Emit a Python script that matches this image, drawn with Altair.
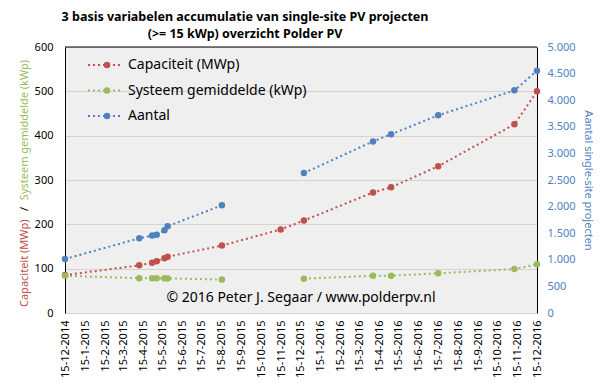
import altair as alt
import pandas as pd

# ---------------- data ----------------
dates = ["2014-12-15", "2015-04-09", "2015-04-29", "2015-05-06", "2015-05-18",
         "2015-05-23", "2015-08-15", "2015-11-14", "2015-12-20", "2016-04-05",
         "2016-05-03", "2016-07-15", "2016-11-10", "2016-12-15"]
capaciteit = [85.5, 107.5, 113.5, 116.5, 123.5, 127, 152, 188.5, 208.5, 272,
              283.5, 331, 425.5, 500]
gemiddelde = [84, 78.5, 78.5, 78.5, 78.5, 78, 75.5, None, 77.5, 84, 84, 89.5, 99, 110]
aantal = [1015, 1405, 1455, 1470, 1555, 1630, 2025, None, 2630, 3225, 3360, 3715,
          4185, 4555]

series_names = ["Capaciteit (MWp)", "Systeem gemiddelde (kWp)", "Aantal"]
series_colors = ["#C0504D", "#9BBB59", "#4F81BD"]

tick_dates = ["2014-12-15", "2015-01-15", "2015-02-15", "2015-03-15", "2015-04-15",
              "2015-05-15", "2015-06-15", "2015-07-15", "2015-08-15", "2015-09-15",
              "2015-10-15", "2015-11-15", "2015-12-15", "2016-01-15", "2016-02-15",
              "2016-03-15", "2016-04-15", "2016-05-15", "2016-06-15", "2016-07-15",
              "2016-08-15", "2016-09-15", "2016-10-15", "2016-11-15", "2016-12-15"]
left_ticks = [0, 100, 200, 300, 400, 500, 600]
right_ticks = [0, 500, 1000, 1500, 2000, 2500, 3000, 3500, 4000, 4500, 5000]

title_lines = ["3 basis variabelen accumulatie van single-site PV projecten",
               "(>= 15 kWp) overzicht Polder PV"]
copyright_text = "\u00a9 2016 Peter J. Segaar / www.polderpv.nl"
right_title = "Aantal single-site projecten"

# ---------------- build long tables ----------------
def long_rows(name, values):
    rows, seg = [], 0
    for d, v in zip(dates, values):
        if v is None:
            seg += 1
            continue
        rows.append({"datum": d, "waarde": v, "reeks": name, "seg": f"{name}-{seg}"})
    return rows

df_left = pd.DataFrame(long_rows(series_names[0], capaciteit) + long_rows(series_names[1], gemiddelde))
df_right = pd.DataFrame(long_rows(series_names[2], aantal))
df_legend = pd.DataFrame({"reeks": series_names, "idx": list(range(len(series_names)))})
dummy = pd.DataFrame({"a": [0]})

def ms(s):
    return int(pd.Timestamp(s, tz="UTC").value // 10**6)

FONT = "Noto Sans"
W, H = 472, 266

xscale = alt.Scale(type="utc", domain=[ms(tick_dates[0]), ms(tick_dates[-1])])
xaxis = alt.Axis(title=None, values=[ms(t) for t in tick_dates],
                 labelExpr="utcFormat(datum.value, '%-d-%-m-%Y')",
                 labelAngle=270, labelFont=FONT, labelFontSize=11, labelColor="black",
                 labelOverlap=False, labelFlush=False, labelPadding=7,
                 ticks=False, grid=False, domainColor="#D9D0D0", domainWidth=1)
color = alt.Color("reeks:N", scale=alt.Scale(domain=series_names, range=series_colors), legend=None)

left_axis = alt.Axis(title=None, values=left_ticks, orient="left", grid=True,
                     gridColor="#D9D0D0", domainColor="black", ticks=False,
                     labelFont=FONT, labelFontSize=11, labelColor="black", labelPadding=12)
right_axis = alt.Axis(title=right_title, values=right_ticks, orient="right", grid=False,
                      domainColor="black", ticks=False,
                      labelExpr="replace(format(datum.value, ','), ',', '.')",
                      labelFont=FONT, labelFontSize=11, labelColor="#4F81BD", labelPadding=10,
                      titleFont=FONT, titleFontSize=11, titleFontWeight="normal",
                      titleColor="#4F81BD", titlePadding=7)

dash = [2, 3]

base_left = alt.Chart(df_left).encode(
    x=alt.X("datum:T", scale=xscale, axis=xaxis),
    y=alt.Y("waarde:Q", scale=alt.Scale(domain=[0, 600]), axis=left_axis),
    color=color,
    detail="seg:N",
)
left = base_left.mark_line(strokeWidth=2, strokeDash=dash) + \
    base_left.mark_point(filled=True, size=42, opacity=1)

base_right = alt.Chart(df_right).encode(
    x=alt.X("datum:T", scale=xscale, axis=xaxis),
    y=alt.Y("waarde:Q", scale=alt.Scale(domain=[0, 5000]), axis=right_axis),
    color=color,
    detail="seg:N",
)
right = base_right.mark_line(strokeWidth=2, strokeDash=dash) + \
    base_right.mark_point(filled=True, size=42, opacity=1)

# manual legend (rows placed through a small linear scale)
ly = alt.Y("idx:Q", scale=alt.Scale(domain=[0, 2], range=[18, 69]), axis=None)
leg_base = alt.Chart(df_legend).encode(y=ly, color=color)
legend = alt.layer(
    leg_base.mark_rule(strokeWidth=2, strokeDash=dash).encode(x=alt.value(23), x2=alt.value(55)),
    leg_base.mark_point(filled=True, size=42, opacity=1).encode(x=alt.value(42)),
    leg_base.mark_text(align="left", baseline="middle", font=FONT, fontSize=14)
        .encode(x=alt.value(63), text="reeks:N", color=alt.value("black")),
)

def txt(text, x, y, baseline="middle", **kw):
    return alt.Chart(dummy).mark_text(text=text, font=FONT, baseline=baseline, **kw).encode(
        x=alt.value(x), y=alt.value(y))

title = txt(title_lines, 180, -26, baseline="alphabetic", fontSize=12.5, fontWeight="bold",
            align="center", color="black", lineHeight=17.2)
lt_red = txt("Capaciteit (MWp)", -40, 260, fontSize=11, angle=270, align="left", color="#C0504D")
lt_slash = txt("/", -40, 162, fontSize=11, angle=270, align="center", color="black")
lt_green = txt("Systeem gemiddelde (kWp)", -40, 83, fontSize=11, angle=270, align="center", color="#9BBB59")
copy = txt(copyright_text, 236, 251, fontSize=14, align="center", color="black")
topline = alt.Chart(dummy).mark_rule(color="black", strokeWidth=1).encode(
    x=alt.value(0), x2=alt.value(W), y=alt.value(0))

chart = alt.layer(
    left, right, legend, topline, copy, title, lt_red, lt_slash, lt_green
).resolve_scale(y="independent").properties(
    width=W, height=H,
    autosize=alt.AutoSizeParams(type="none"),
    padding={"left": 57, "top": 39, "right": 63, "bottom": 65},
).configure_view(fill="#EFEFEF", stroke="transparent")

chart.save("out.html", embed_options={"renderer": "svg", "actions": False})
